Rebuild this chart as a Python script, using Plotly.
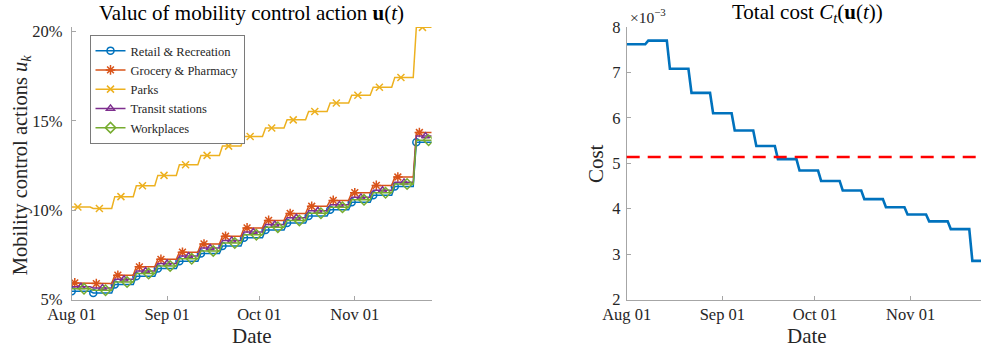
import numpy as np
import pandas as pd
import plotly.graph_objects as go

# ---------------- data ----------------
start_date = "2020-08-01"
n_days = 118
dates = pd.date_range(start_date, periods=n_days, freq="D")

# weekly plateau values (week 0 .. week 16), in percent
retail = [5.46, 5.37, 5.84, 6.30, 6.73, 7.14, 7.57, 7.99, 8.46, 8.89, 9.28, 9.68, 10.02, 10.44, 10.84, 11.33, 13.80]
grocery = [5.93, 5.89, 6.36, 6.83, 7.25, 7.65, 8.11, 8.54, 9.01, 9.43, 9.82, 10.22, 10.55, 10.98, 11.39, 11.86, 14.35]
parks = [10.18, 10.10, 10.76, 11.37, 11.95, 12.55, 13.07, 13.59, 14.13, 14.60, 15.06, 15.53, 16.00, 16.44, 16.89, 17.43, 20.24]
transit = [5.71, 5.65, 6.13, 6.60, 7.02, 7.43, 7.88, 8.31, 8.78, 9.20, 9.58, 9.97, 10.30, 10.72, 11.12, 11.56, 14.15]
workplaces = [5.60, 5.52, 5.98, 6.45, 6.88, 7.28, 7.72, 8.16, 8.63, 9.05, 9.43, 9.83, 10.16, 10.58, 10.98, 11.47, 13.92]

# total cost (x 1e-3), weekly plateaus
total_cost = [7.62, 7.70, 7.08, 6.55, 6.10, 5.72, 5.38, 5.09, 4.84, 4.61, 4.40, 4.21, 4.03, 3.87, 3.72, 3.55, 2.85]
cost_threshold = 5.14

series_names = ["Retail &amp; Recreation", "Grocery &amp; Pharmacy", "Parks", "Transit stations", "Workplaces"]
series_values = [retail, grocery, parks, transit, workplaces]
series_colors = ["#0072BD", "#D95319", "#EDB120", "#7E2F8E", "#77AC30"]
series_symbols = ["circle-open", "asterisk-open", "x-thin-open", "triangle-up-open", "diamond-open"]
series_sizes = [7, 8, 7, 7, 8]
marker_offsets = [0, 1, 2, 3, 4]

x_tick_dates = ["2020-08-01", "2020-09-01", "2020-10-01", "2020-11-01"]
x_tick_labels = ["Aug 01", "Sep 01", "Oct 01", "Nov 01"]
y1_ticks = [5, 10, 15, 20]
y1_labels = ["5%", "10%", "15%", "20%"]
y2_ticks = [2, 3, 4, 5, 6, 7, 8]

# daily step series (each weekly value held for 7 days)
week_of_day = np.arange(n_days) // 7

W, H = 981, 350
FONT = "Liberation Serif"
AX = "#a6a6a6"
TXT = "#262626"

fig = go.Figure()

for name, vals, col, sym, sz, off in zip(series_names, series_values, series_colors,
                                         series_symbols, series_sizes, marker_offsets):
    daily = np.asarray(vals)[week_of_day]
    fig.add_trace(go.Scatter(x=dates, y=daily, mode="lines", line=dict(color=col, width=1.5),
                             showlegend=False, hoverinfo="skip", xaxis="x", yaxis="y"))
    fig.add_trace(go.Scatter(x=dates[off::7], y=daily[off::7], mode="markers",
                             marker=dict(symbol=sym, size=sz, color=col, line=dict(color=col, width=1.5)),
                             showlegend=False, xaxis="x", yaxis="y"))
    fig.add_trace(go.Scatter(x=[None], y=[None], mode="lines+markers", name=name,
                             line=dict(color=col, width=1.5),
                             marker=dict(symbol=sym, size=sz, color=col, line=dict(color=col, width=1.5)),
                             xaxis="x", yaxis="y"))

cost_daily = np.asarray(total_cost)[week_of_day]
fig.add_trace(go.Scatter(x=dates, y=cost_daily, mode="lines", line=dict(color="#0072BD", width=2.6),
                         showlegend=False, xaxis="x2", yaxis="y2"))
fig.add_shape(type="line", xref="x2 domain", x0=0, x1=1, yref="y2", y0=cost_threshold, y1=cost_threshold,
              line=dict(color="#FF0000", width=2.5, dash="13px,8px"))

ydom = [1 - 299.5 / H, 1 - 27 / H]
common_x = dict(showgrid=False, zeroline=False, showline=True, linecolor=AX, linewidth=1,
                ticks="inside", ticklen=4, tickcolor=AX, tickwidth=1, automargin=False,
                tickvals=x_tick_dates, ticktext=x_tick_labels,
                tickfont=dict(family=FONT, size=16.5, color=TXT))
common_y = dict(showgrid=False, zeroline=False, showline=True, linecolor=AX, linewidth=1,
                ticks="inside", ticklen=4, tickcolor=AX, tickwidth=1, automargin=False,
                tickfont=dict(family=FONT, size=16.5, color=TXT))

x2_end = (pd.Timestamp(start_date) + pd.Timedelta(days=114.8)).isoformat()

fig.update_layout(
    width=W, height=H, margin=dict(l=0, r=0, t=0, b=0, autoexpand=False),
    paper_bgcolor="white", plot_bgcolor="white",
    xaxis=dict(domain=[71.7 / W, 431.7 / W], anchor="y", range=[dates[0], dates[-1]], **common_x),
    yaxis=dict(domain=ydom, anchor="x", range=[5, 20.26], tickvals=y1_ticks, ticktext=y1_labels,
               ticklabelstandoff=5, **common_y),
    xaxis2=dict(domain=[626.7 / W, 1.0], anchor="y2", range=[dates[0], x2_end], **common_x),
    yaxis2=dict(domain=ydom, anchor="x2", range=[2, 8], tickvals=y2_ticks,
                ticktext=[str(v) for v in y2_ticks], ticklabelstandoff=2, **common_y),
    legend=dict(x=89.5 / W, y=1 - 35 / H, xanchor="left", yanchor="top",
                bgcolor="white", bordercolor="#7a7a7a", borderwidth=1,
                font=dict(family=FONT, size=12.5, color=TXT), itemwidth=30, tracegroupgap=0),
    showlegend=True,
)

ann = [
    dict(text="Valuc of mobility control action <b>u</b>(<i>t</i>)", x=251 / W, y=1 - 13 / H,
         font=dict(family=FONT, size=21, color="#000")),
    dict(text="Total cost <i>C<sub>t</sub></i>(<b>u</b>(<i>t</i>))", x=807 / W, y=1 - 13 / H,
         font=dict(family=FONT, size=21, color="#000")),
    dict(text="Date", x=251.7 / W, y=1 - 336 / H, font=dict(family=FONT, size=21, color=TXT)),
    dict(text="Date", x=806.7 / W, y=1 - 336 / H, font=dict(family=FONT, size=21, color=TXT)),
    dict(text="Mobility control actions <i>u<sub>k</sub></i>", x=21.7 / W, y=1 - 164.5 / H, textangle=-90,
         font=dict(family=FONT, size=20.5, color=TXT)),
    dict(text="Cost", x=595.8 / W, y=1 - 163.3 / H, textangle=-90, font=dict(family=FONT, size=21, color=TXT)),
    dict(text="×10<sup>−3</sup>", x=628 / W, y=1 - 16 / H, xanchor="left",
         font=dict(family=FONT, size=15.5, color=TXT)),
]
for a in ann:
    a.setdefault("xanchor", "center")
    a.update(xref="paper", yref="paper", yanchor="middle", showarrow=False)
fig.update_layout(annotations=ann)

fig.write_html("out.html")
